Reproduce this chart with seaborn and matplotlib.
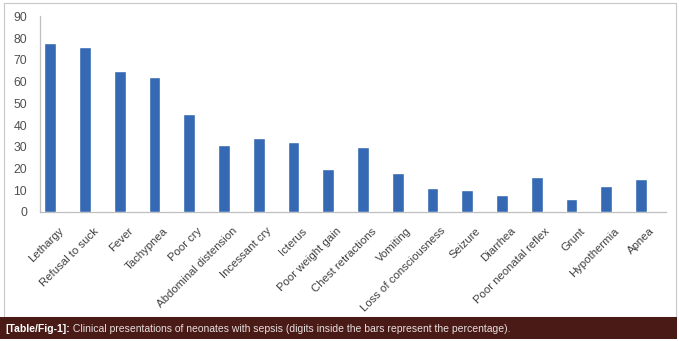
import matplotlib
matplotlib.use("Agg")
import matplotlib.pyplot as plt
import matplotlib.transforms as mtransforms
import seaborn as sns
import pandas as pd
from matplotlib.patches import Rectangle

categories = ["Lethargy", "Refusal to suck", "Fever", "Tachypnea", "Poor cry",
              "Abdominal distension", "Incessant cry", "Icterus", "Poor weight gain",
              "Chest retractions", "Vomiting", "Loss of consciousness", "Seizure",
              "Diarrhea", "Poor neonatal reflex", "Grunt", "Hypothermia", "Apnea"]
values = [78, 76, 65, 62, 45, 31, 34, 32, 20, 30, 18, 11, 10, 8, 16, 6, 12, 15]
y_ticks = [0, 10, 20, 30, 40, 50, 60, 70, 80, 90]
caption_bold = "[Table/Fig-1]:"
caption_rest = " Clinical presentations of neonates with sepsis (digits inside the bars represent the percentage)."

df = pd.DataFrame({"symptom": categories, "pct": values})

sns.set_theme(style="white")
plt.rcParams['font.family'] = ['Liberation Sans', 'DejaVu Sans']

W, H = 679, 341
fig = plt.figure(figsize=(W / 100, H / 100), dpi=100)
fig.patch.set_facecolor("white")

# panel border and caption bar
fig.add_artist(Rectangle((4 / W, 1 - 317 / H), 672 / W, 314 / H, transform=fig.transFigure,
                         facecolor="white", edgecolor="#c8c8c8", linewidth=0.8, zorder=0))
fig.add_artist(Rectangle((0, 1 - 339 / H), 677 / W, 22 / H, transform=fig.transFigure,
                         facecolor="#4a1a17", edgecolor="none", zorder=1))

ax = fig.add_axes([39.7 / W, 1 - 212 / H, (666 - 39.7) / W, (212 - 16.5) / H])
ax.set_facecolor("none")
sns.barplot(data=df, x="symptom", y="pct", color="#3569b3", width=0.34,
            saturation=1, ax=ax, zorder=3)

ax.set_ylim(0, 90)
ax.set_xlim(-0.305, 17.72)
ax.set_yticks(y_ticks)
ax.set_yticklabels([str(v) for v in y_ticks], fontsize=8.8, color="#505050")
ax.set_xlabel("")
ax.set_ylabel("")
ax.set_xticks(range(len(categories)))
ax.set_xticklabels(categories, rotation=45, ha="right", rotation_mode="anchor",
                   fontsize=8.2, color="#404040")
ax.tick_params(axis="x", length=0, pad=5)
ax.tick_params(axis="y", length=0, pad=9)
offset = mtransforms.ScaledTranslation(8 / 100, -7 / 100, fig.dpi_scale_trans)
for lab in ax.get_xticklabels():
    lab.set_transform(lab.get_transform() + offset)
for s in ["top", "right"]:
    ax.spines[s].set_visible(False)
for s in ["left", "bottom"]:
    ax.spines[s].set_color("#bfbfbf")
    ax.spines[s].set_linewidth(0.9)

t1 = fig.text(5 / W, 1 - 332 / H, caption_bold, fontsize=7.5, fontweight="bold",
              color="white", zorder=5)
fig.canvas.draw()
bb = t1.get_window_extent()
fig.text(bb.x1 / W, 1 - 332 / H, caption_rest, fontsize=7.5, color="#e8e0e0", zorder=5)

fig.savefig("out.png", dpi=100)
